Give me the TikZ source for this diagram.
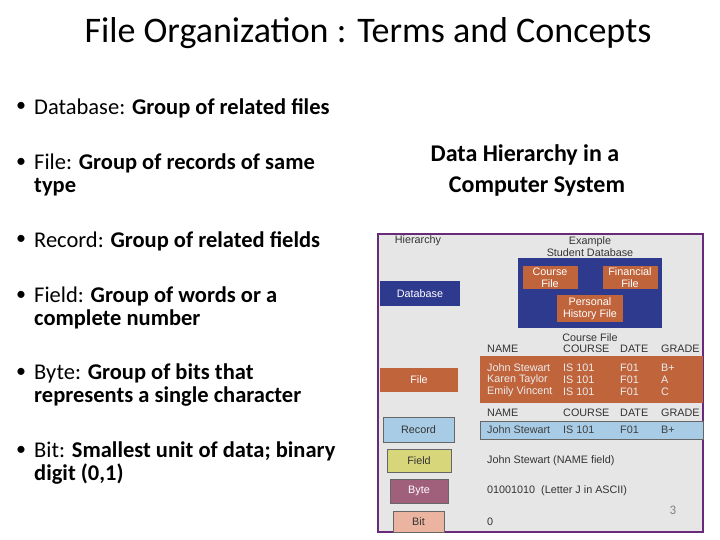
\documentclass[tikz,border=0pt]{standalone}
\usepackage{fontspec}
\setmainfont{Carlito}
\newfontfamily\arial{Liberation Sans}
\definecolor{dbblue}{HTML}{2E3A8E}
\definecolor{forange}{HTML}{C0643C}
\definecolor{rblue}{HTML}{A8CCE6}
\definecolor{fyellow}{HTML}{D8D67A}
\definecolor{bpurple}{HTML}{A0607C}
\definecolor{bsalmon}{HTML}{EAB4A0}
\definecolor{figbg}{HTML}{E6E6E6}
\definecolor{frame}{HTML}{6A2A7A}
\begin{document}
\begin{tikzpicture}[x=1pt,y=-1pt,
  bul/.style={anchor=north west,align=left,font=\fontsize{22.5}{23}\selectfont,inner sep=0pt},
  ft/.style={font=\arial\fontsize{10.8}{12}\selectfont,inner sep=0pt},
  wt/.style={ft,text=white,align=center},
  lt/.style={ft,text=white!85!gray,anchor=west}]
\useasboundingbox (0,0) rectangle (720,540);
\node[font=\fontsize{36}{40}\selectfont] (title) at (368,33) {File Organization : Terms and Concepts};
\foreach \y/\t [count=\i] in {
 107/{Database: \textbf{Group of related files}},
 163/{File: \textbf{Group of records of same}\\\textbf{type}},
 240/{Record: \textbf{Group of related fields}},
 296/{Field: \textbf{Group of words or a}\\\textbf{complete number}},
 373/{Byte: \textbf{Group of bits that}\\\textbf{represents a single character}},
 451/{Bit: \textbf{Smallest unit of data; binary}\\\textbf{digit (0,1)}}}{
  \node[bul] (b\i) at (34,\y-9) {\t};
  \node[font=\fontsize{20}{20}\selectfont,inner sep=0pt] (d\i) at (21,\y) {\textbullet};
}
\node[font=\bfseries\fontsize{24}{28}\selectfont] (dh1) at (525,155) {Data Hierarchy in a};
\node[font=\bfseries\fontsize{24}{28}\selectfont] (dh2) at (537,187) {Computer System};
% figure
\draw[frame,line width=1.5pt,fill=figbg] (378,234) rectangle (703,532);
\node[ft,text=black!80] (hier) at (418,241) {Hierarchy};
\node[ft,text=black!80,align=center] (ex) at (590,247) {Example\\Student Database};
\fill[dbblue] (380,281) rectangle (460,306);
\node[wt] (db) at (420,293.5) {Database};
\fill[dbblue] (518,258) rectangle (662,328);
\fill[forange] (523,266) rectangle (578,289);
\node[wt] (cf) at (550,277.5) {Course\\File};
\fill[forange] (603,266) rectangle (658,289);
\node[wt] (ff) at (630,277.5) {Financial\\File};
\fill[forange] (557,295) rectangle (623,322);
\node[wt] (ph) at (590,308.5) {Personal\\History File};
\node[ft,text=black!80] (cft) at (590,338) {Course File};
\foreach \yy in {349,413}{
 \node[ft,text=black!80,anchor=west] at (487,\yy) {NAME};
 \node[ft,text=black!80,anchor=west] at (563,\yy) {COURSE};
 \node[ft,text=black!80,anchor=west] at (620,\yy) {DATE};
 \node[ft,text=black!80,anchor=west] at (661,\yy) {GRADE};
}
\fill[forange] (480,356) rectangle (703,403);
\foreach \yy/\n/\g in {368/John Stewart/B+,380/Karen Taylor/A,392/Emily Vincent/C}{
 \node[lt] at (487,\yy) {\n};
 \node[lt] at (563,\yy) {IS 101};
 \node[lt] at (620,\yy) {F01};
 \node[lt] at (661,\yy) {\g};
}
\fill[forange] (380,368) rectangle (458,392);
\node[wt] (fl) at (419,380) {File};
\draw[black!60,fill=rblue] (480,421) rectangle (703,439);
\node[ft,text=black!75,anchor=west] at (487,430) {John Stewart};
\node[ft,text=black!75,anchor=west] at (563,430) {IS 101};
\node[ft,text=black!75,anchor=west] at (620,430) {F01};
\node[ft,text=black!75,anchor=west] at (661,430) {B+};
\draw[black!60,fill=rblue] (383,417) rectangle (454,442);
\node[ft,text=black!80] (rec) at (418.5,429.5) {Record};
\draw[black!60,fill=fyellow] (387,449) rectangle (451,472);
\node[ft,text=black!80] (fld) at (419,460.5) {Field};
\node[ft,text=black!80,anchor=west] at (487,461) {John Stewart (NAME field)};
\draw[black!60,fill=bpurple] (390,479) rectangle (448,503);
\node[wt] (byt) at (419,491) {Byte};
\node[ft,text=black!80,anchor=west] at (487,491) {01001010\ \ (Letter J in ASCII)};
\draw[black!60,fill=bsalmon] (393,511) rectangle (444,532);
\node[ft,text=black!80] (bit) at (418.5,521.5) {Bit};
\node[ft,text=black!80,anchor=west] at (487,521.5) {0};
\node[font=\fontsize{13}{14}\selectfont,text=gray] (pg) at (673,510) {3};
\end{tikzpicture}
\end{document}
